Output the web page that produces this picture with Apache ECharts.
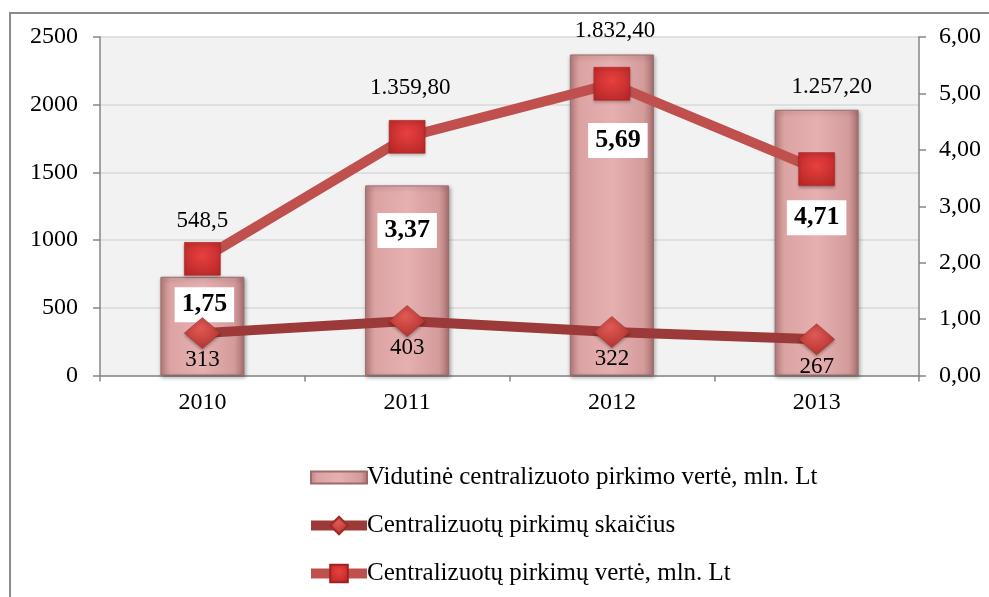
<!DOCTYPE html>
<html>
<head>
<meta charset="utf-8">
<script src="https://cdn.jsdelivr.net/npm/echarts@6/dist/echarts.min.js"></script>
<style>
  html, body { margin: 0; padding: 0; background: #fff; }
  #chart { width: 989px; height: 597px; }
</style>
</head>
<body>
<div id="chart"></div>
<script>
// duomenys
var years = ['2010', '2011', '2012', '2013'];
var avgValue = [1.75, 3.37, 5.69, 4.71];          // Vidutinė centralizuoto pirkimo vertė, mln. Lt
var purchaseCount = [313, 403, 322, 267];         // Centralizuotų pirkimų skaičius
var purchaseValue = [548.5, 1359.8, 1832.4, 1257.2]; // Centralizuotų pirkimų vertė, mln. Lt
var leftTicks = { min: 0, max: 2500, step: 500 };
var rightTicks = { min: 0, max: 6, step: 1 };

var names = [
  'Vidutinė centralizuoto pirkimo vertė, mln. Lt',
  'Centralizuotų pirkimų skaičius',
  'Centralizuotų pirkimų vertė, mln. Lt'
];

// etikečių išdėstymas (rankinis, kaip originale)
var barLabelDy = [28, 45, 86, 108];
var barLabelDx = [2, 0, 6, 0];
var sqLabelDist = [10, 21, 25, 54];
var sqLabelDx = [0, 3, 3, 15];

var FONT = 'Liberation Serif';

function ltNum(v) {
  // 1359.8 -> "1.359,80", 548.5 -> "548,5"
  if (v < 1000) return String(v).replace('.', ',');
  var s = v.toFixed(2).split('.');
  return s[0].replace(/\B(?=(\d{3})+(?!\d))/g, '.') + ',' + s[1];
}

var barData = avgValue.map(function (v, i) {
  return {
    value: v,
    label: { position: ['50%', barLabelDy[i]], offset: [barLabelDx[i], 0] }
  };
});
var sqData = purchaseValue.map(function (v, i) {
  return {
    value: v,
    label: { distance: sqLabelDist[i], offset: [sqLabelDx[i], 0] }
  };
});

var chart = echarts.init(document.getElementById('chart'));
chart.setOption({
  animation: false,
  textStyle: { fontFamily: FONT },
  graphic: [{
    type: 'rect',
    shape: { x: 10, y: 13, width: 1000, height: 620 },
    style: { fill: 'none', stroke: '#8c8c8c', lineWidth: 2 },
    silent: true
  }],
  grid: {
    left: 100, right: 70, top: 37, bottom: 221.5,
    show: true, backgroundColor: '#f2f2f2', borderWidth: 0
  },
  legend: {
    orient: 'vertical',
    left: 301, top: 460,
    itemWidth: 56, itemHeight: 22, itemGap: 23,
    lineStyle: { width: 10 },
    textStyle: { fontFamily: FONT, fontSize: 25, color: '#000', padding: [0, 0, 0, -5] },
    data: [
      { name: names[0], icon: 'path://M0,0 L56,0 L56,12 L0,12 Z' },
      names[1],
      names[2]
    ]
  },
  xAxis: {
    type: 'category',
    data: years,
    axisLine: { lineStyle: { color: '#868686', width: 1.5 } },
    axisTick: { show: true, length: 6, lineStyle: { color: '#868686', width: 1.5 } },
    axisLabel: { color: '#000', fontSize: 24, fontFamily: FONT, margin: 15 }
  },
  yAxis: [{
    type: 'value',
    min: leftTicks.min, max: leftTicks.max, interval: leftTicks.step,
    axisLine: { show: true, lineStyle: { color: '#868686', width: 1.5 } },
    axisTick: { show: true, length: 7, lineStyle: { color: '#868686', width: 1.5 } },
    axisLabel: {
      color: '#000', fontSize: 24, fontFamily: FONT, margin: 22,
      formatter: function (v) { return String(v); }
    },
    splitLine: { lineStyle: { color: '#d9d9d9', width: 1.5 } }
  }, {
    type: 'value',
    min: rightTicks.min, max: rightTicks.max, interval: rightTicks.step,
    axisLine: { show: true, lineStyle: { color: '#868686', width: 1.5 } },
    axisTick: { show: true, length: 7, lineStyle: { color: '#868686', width: 1.5 } },
    axisLabel: {
      color: '#000', fontSize: 24, fontFamily: FONT, margin: 20,
      formatter: function (v) { return v.toFixed(2).replace('.', ','); }
    },
    splitLine: { show: false }
  }],
  series: [{
    name: names[0],
    type: 'bar',
    yAxisIndex: 1,
    barWidth: '41%',
    z: 1,
    data: barData,
    itemStyle: {
      color: new echarts.graphic.LinearGradient(0, 0, 1, 0, [
        { offset: 0, color: '#b98080' },
        { offset: 0.12, color: '#dca3a3' },
        { offset: 0.5, color: '#e6b0b0' },
        { offset: 0.88, color: '#d49b9b' },
        { offset: 1, color: '#a87070' }
      ]),
      borderColor: '#9c6a6a',
      borderWidth: 1,
      shadowColor: 'rgba(0,0,0,0.35)',
      shadowBlur: 4,
      shadowOffsetX: 1,
      shadowOffsetY: 2
    },
    label: {
      show: true,
      align: 'center',
      verticalAlign: 'middle',
      backgroundColor: '#fff',
      padding: [5, 7, 4, 7],
      color: '#000',
      fontFamily: FONT,
      fontSize: 26,
      fontWeight: 'bold',
      formatter: function (p) { return p.value.toFixed(2).replace('.', ','); }
    }
  }, {
    name: names[1],
    type: 'line',
    yAxisIndex: 0,
    stack: 'pirkimai',
    z: 3,
    data: purchaseCount,
    symbol: 'diamond',
    symbolSize: [36, 31],
    lineStyle: { color: '#9b3a38', width: 10 },
    itemStyle: {
      color: new echarts.graphic.RadialGradient(0.45, 0.35, 0.7, [
        { offset: 0, color: '#e05a55' },
        { offset: 1, color: '#b2302c' }
      ]),
      borderColor: '#9b2a28',
      borderWidth: 0.5,
      shadowColor: 'rgba(0,0,0,0.3)',
      shadowBlur: 3,
      shadowOffsetY: 2
    },
    label: {
      show: true,
      position: 'bottom',
      distance: 0,
      color: '#000',
      fontFamily: FONT,
      fontSize: 23
    }
  }, {
    name: names[2],
    type: 'line',
    yAxisIndex: 0,
    stack: 'pirkimai',
    z: 4,
    data: sqData,
    symbol: 'rect',
    symbolSize: [36, 33],
    lineStyle: { color: '#c0504d', width: 10 },
    itemStyle: {
      color: new echarts.graphic.RadialGradient(0.5, 0.4, 0.7, [
        { offset: 0, color: '#e84040' },
        { offset: 1, color: '#b82626' }
      ]),
      borderColor: '#a02020',
      borderWidth: 0.5,
      shadowColor: 'rgba(0,0,0,0.3)',
      shadowBlur: 3,
      shadowOffsetY: 2
    },
    label: {
      show: true,
      position: 'top',
      color: '#000',
      fontFamily: FONT,
      fontSize: 23,
      formatter: function (p) { return ltNum(purchaseValue[p.dataIndex]); }
    }
  }]
});

window.addEventListener('resize', function () {
  chart.resize();
});
</script>
</body>
</html>
